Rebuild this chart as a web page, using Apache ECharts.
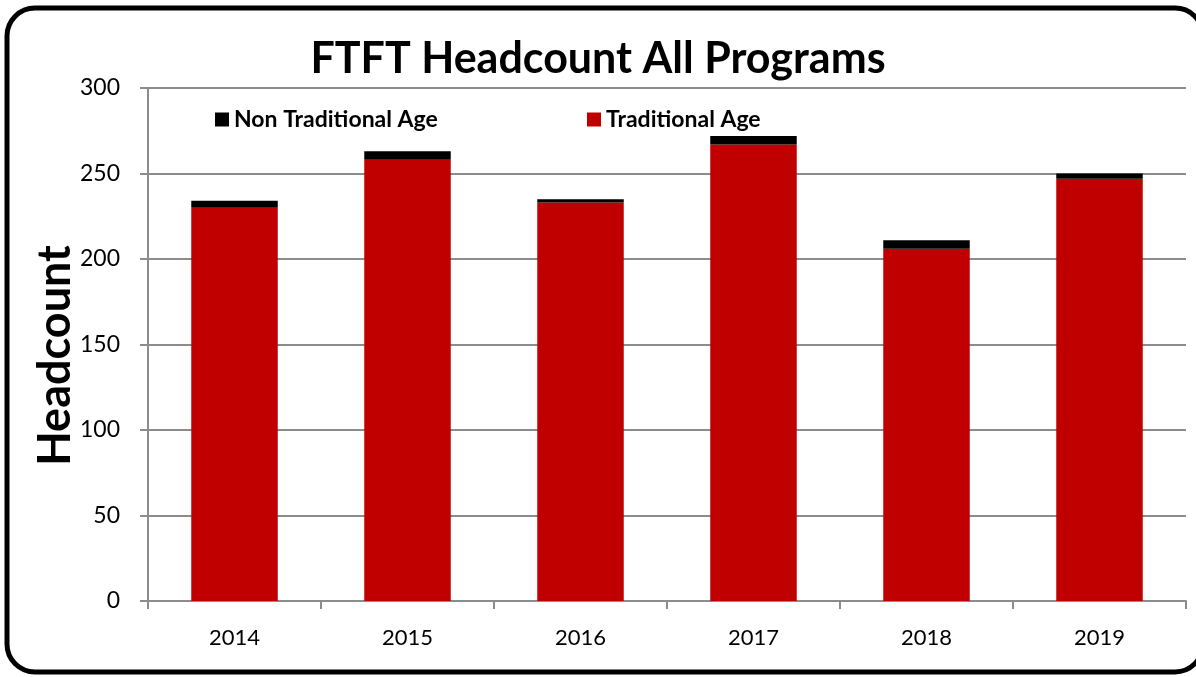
<!DOCTYPE html>
<html lang="en">
<head>
    <meta charset="utf-8">
    <title>FTFT Headcount</title>
    <script src="https://cdn.jsdelivr.net/npm/echarts@6/dist/echarts.min.js"></script>
    <style>
        html, body { margin: 0; padding: 0; background: #fff; }
    </style>
</head>
<body>
    <div id="main" style="width: 1196px;height:677px"></div>
<script>
    // data
    var years = ['2014', '2015', '2016', '2017', '2018', '2019'];
    var traditional = [230, 258, 233, 267, 206, 247];
    var nonTraditional = [4, 5, 2, 5, 5, 3];
    var yTicks = [0, 50, 100, 150, 200, 250, 300];

    var font = 'Lato, "Open Sans", sans-serif';
    var chart = echarts.init(document.getElementById('main'));
    var option = {
        backgroundColor: '#fff',
        animation: false,
        title: {
            text: 'FTFT Headcount All Programs',
            left: 'center',
            top: 33,
            textStyle: { fontFamily: font, fontSize: 43, fontWeight: 'bold', color: '#000' }
        },
        legend: [{
            data: ['Non Traditional Age'],
            left: 210, top: 103,
            itemWidth: 14, itemHeight: 14, itemGap: 6,
            icon: 'rect',
            textStyle: { fontFamily: font, fontSize: 23, fontWeight: 'bold', color: '#000' }
        }, {
            data: ['Traditional Age'],
            left: 582, top: 103,
            itemWidth: 14, itemHeight: 14,
            icon: 'rect',
            textStyle: { fontFamily: font, fontSize: 23, fontWeight: 'bold', color: '#000' }
        }],
        grid: { left: 148, right: 10, top: 88, bottom: 76 },
        xAxis: {
            type: 'category',
            data: years,
            axisLine: { lineStyle: { color: '#8c8c8c', width: 2 } },
            axisTick: { show: true, length: 8, lineStyle: { color: '#8c8c8c', width: 2 } },
            axisLabel: { fontFamily: font, fontSize: 22, color: '#000', margin: 26 }
        },
        yAxis: {
            type: 'value',
            min: yTicks[0], max: yTicks[yTicks.length - 1], interval: 50,
            name: 'Headcount',
            nameLocation: 'middle',
            nameGap: 70,
            nameMoveOverlap: false,
            nameTextStyle: { fontFamily: font, fontSize: 45, fontWeight: 'bold', color: '#000', padding: [0, 22, 0, 0] },
            axisLine: { show: true, lineStyle: { color: '#8c8c8c', width: 2 } },
            axisTick: { show: true, length: 8, lineStyle: { color: '#8c8c8c', width: 2 } },
            splitLine: { lineStyle: { color: '#8c8c8c', width: 2 } },
            axisLabel: { fontFamily: font, fontSize: 23, color: '#000', margin: 28 }
        },
        series: [{
            name: 'Traditional Age',
            type: 'bar',
            stack: 'a',
            barWidth: '50%',
            itemStyle: { color: '#c00000' },
            data: traditional
        }, {
            name: 'Non Traditional Age',
            type: 'bar',
            stack: 'a',
            barWidth: '50%',
            itemStyle: { color: '#000' },
            data: nonTraditional
        }],
        graphic: [{
            type: 'rect',
            silent: true,
            z: 100,
            shape: { x: 7, y: 8, width: 1196, height: 664, r: 28 },
            style: { fill: null, stroke: '#000', lineWidth: 5 }
        }]
    };
    chart.setOption(option);
</script>
</body>
</html>
